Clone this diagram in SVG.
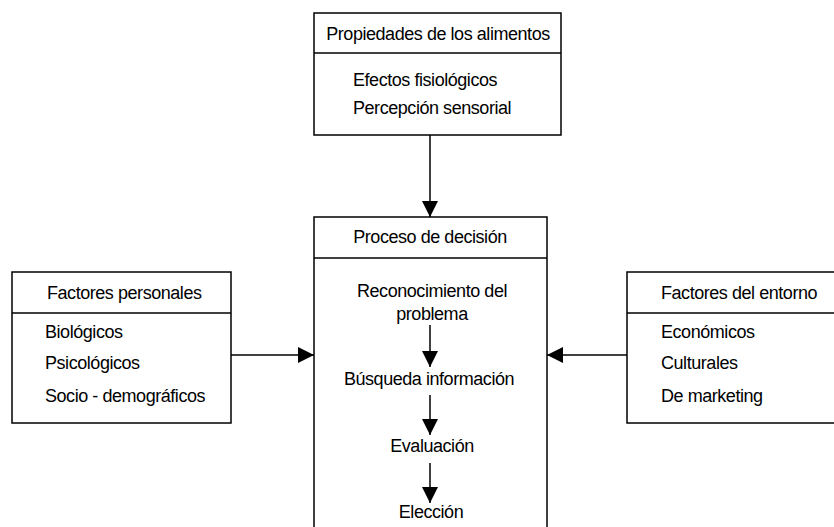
<svg xmlns="http://www.w3.org/2000/svg" width="834" height="527" viewBox="0 0 834 527">
<defs>
<style>
.box{fill:#fff;stroke:#000;stroke-width:1.5}
.ln{stroke:#000;stroke-width:1.5;fill:none}
text{font-family:"Liberation Sans",Arial,sans-serif;font-size:18px;fill:#000;letter-spacing:-0.45px}
.c{text-anchor:middle}
</style>
<marker id="ah" viewBox="0 0 16 16" refX="16" refY="8" markerWidth="16" markerHeight="16" markerUnits="userSpaceOnUse" orient="auto">
<path d="M0,0 L16,8 L0,16 Z" fill="#000"/>
</marker>
</defs>
<rect width="834" height="527" fill="#fff"/>
<g id="propiedades">
<rect class="box" x="314" y="13" width="247" height="122"/>
<line class="ln" x1="314" y1="53" x2="561" y2="53"/>
<text x="438" y="40" class="c">Propiedades de los alimentos</text>
<text x="353" y="86">Efectos fisiológicos</text>
<text x="353" y="114">Percepción sensorial</text>
</g>
<g id="proceso">
<rect class="box" x="314" y="217" width="233" height="320"/>
<line class="ln" x1="314" y1="258" x2="547" y2="258"/>
<text x="430" y="243" class="c">Proceso de decisión</text>
<text x="432" y="297" class="c">Reconocimiento del</text>
<text x="432" y="320" class="c">problema</text>
<text x="429" y="385" class="c">Búsqueda información</text>
<text x="432" y="452" class="c">Evaluación</text>
<text x="431" y="518" class="c">Elección</text>
</g>
<g id="personales">
<rect class="box" x="12" y="272" width="219" height="151"/>
<line class="ln" x1="12" y1="313" x2="231" y2="313"/>
<text x="47" y="299">Factores personales</text>
<text x="45" y="338">Biológicos</text>
<text x="45" y="369">Psicológicos</text>
<text x="45" y="402">Socio - demográficos</text>
</g>
<g id="entorno">
<rect class="box" x="627" y="272" width="220" height="151"/>
<line class="ln" x1="627" y1="313" x2="834" y2="313"/>
<text x="661" y="299">Factores del entorno</text>
<text x="661" y="338">Económicos</text>
<text x="661" y="369">Culturales</text>
<text x="661" y="402">De marketing</text>
</g>
<g id="connectors">
<line class="ln" x1="430" y1="135" x2="430" y2="217" marker-end="url(#ah)"/>
<line class="ln" x1="231" y1="355" x2="314" y2="355" marker-end="url(#ah)"/>
<line class="ln" x1="627" y1="355" x2="547" y2="355" marker-end="url(#ah)"/>
<line class="ln" x1="430" y1="325" x2="430" y2="367" marker-end="url(#ah)"/>
<line class="ln" x1="430" y1="395" x2="430" y2="435" marker-end="url(#ah)"/>
<line class="ln" x1="430" y1="463" x2="430" y2="503" marker-end="url(#ah)"/>
</g>
</svg>
